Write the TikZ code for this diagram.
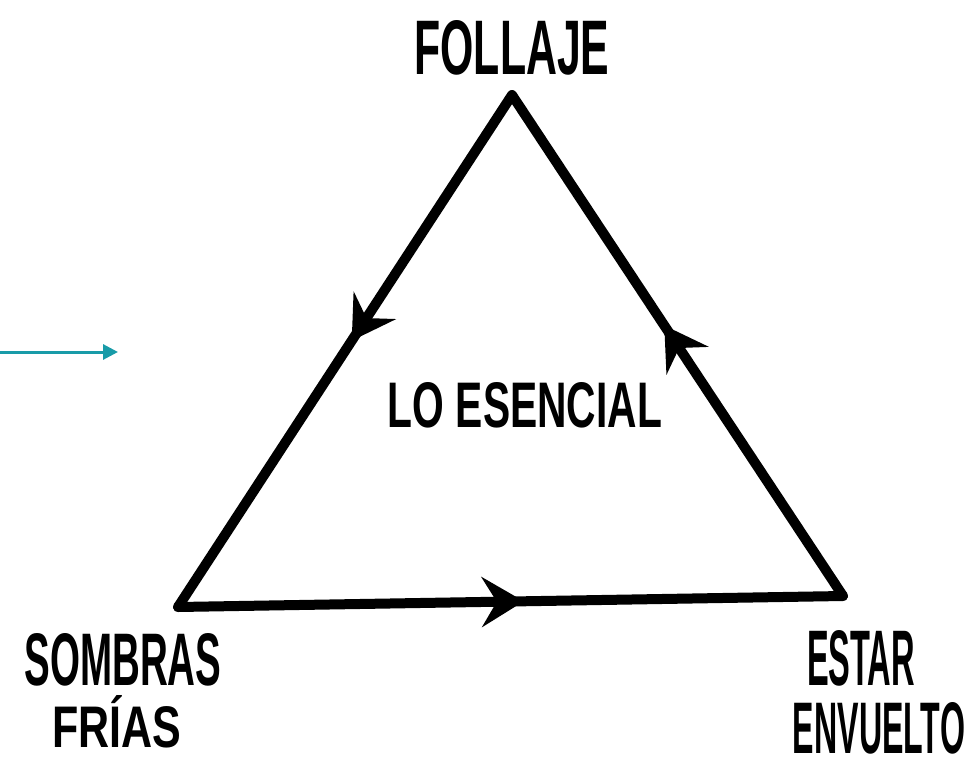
\documentclass[tikz,border=0pt]{standalone}
\usepackage{fontspec}
\setmainfont{Liberation Sans}
\usetikzlibrary{arrows.meta,decorations.markings}
\definecolor{tealarrow}{RGB}{24,155,168}
\tikzset{
  lbl/.style={inner sep=0pt, anchor=center, font=\bfseries},
  edge/.style={line width=10pt, line cap=round, line join=round},
  midarrow/.style={postaction={decorate}, decoration={markings,
    mark=at position #1 with {\arrow{Stealth[length=42pt,width=50pt,inset=15pt]}}}},
  pointer/.style={draw=tealarrow, line width=3pt, -{Triangle[length=15pt,width=15pt]}}
}
\begin{document}
\begin{tikzpicture}[x=1pt,y=-1pt]
\useasboundingbox (0,0) rectangle (973,770);
\coordinate (T) at (512,95);
\coordinate (L) at (178,607);
\coordinate (R) at (843,596);
\draw[edge, midarrow=0.48] (T) -- (L);
\draw[edge, midarrow=0.52] (L) -- (R);
\draw[edge, midarrow=0.54] (R) -- (T);
\coordinate (ps) at (0,352);
\coordinate (pe) at (118,352);
\draw[pointer] (ps) -- (pe);
\node[lbl] (follaje) at (512,48) {\resizebox{195pt}{54pt}{FOLLAJE}};
\node[lbl] (esencial) at (525,405) {\resizebox{274pt}{45pt}{LO ESENCIAL}};
\node[lbl] (sombras) at (123,660) {\resizebox{197pt}{52pt}{SOMBRAS}};
\node[lbl] (frias) at (117,722) {\resizebox{129pt}{52pt}{FRÍAS}};
\node[lbl] (estar) at (861,658) {\resizebox{108pt}{55pt}{ESTAR}};
\node[lbl] (envuelto) at (879,728) {\resizebox{172pt}{51pt}{ENVUELTO}};
\end{tikzpicture}
\end{document}
